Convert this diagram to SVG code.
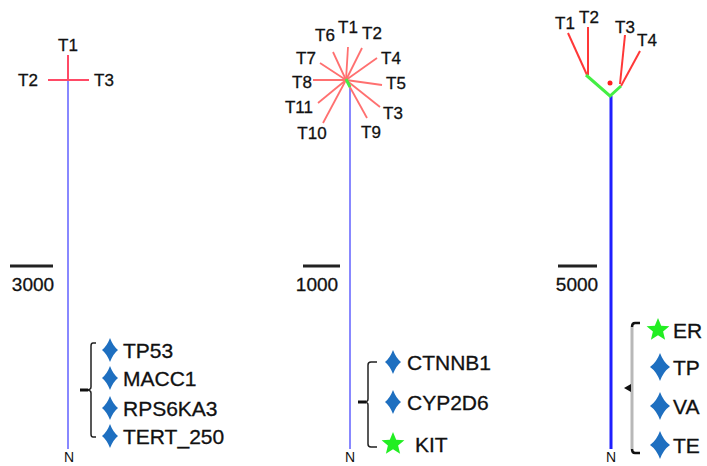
<svg xmlns="http://www.w3.org/2000/svg" width="707" height="466" viewBox="0 0 707 466">
<defs>
<style>
.t{font-family:"Liberation Sans",Arial,sans-serif;font-size:17px;fill:#111;text-anchor:middle;stroke:#111;stroke-width:0.3}
.g{font-family:"Liberation Sans",Arial,sans-serif;font-size:21px;fill:#111;stroke:#111;stroke-width:0.3}
.s{font-family:"Liberation Sans",Arial,sans-serif;font-size:19px;fill:#111;text-anchor:middle;stroke:#111;stroke-width:0.3}
.n{font-family:"Liberation Sans",Arial,sans-serif;font-size:14px;fill:#111;text-anchor:middle}
.bar{stroke:#222;stroke-width:3}
.br{fill:none;stroke:#222;stroke-width:1.5}
.tick{stroke:#111;stroke-width:3}
.r1{stroke:#ff4a66;stroke-width:2;fill:none}
.r2{stroke:#ff7070;stroke-width:1.8;fill:none}
.r3{stroke:#ff3838;stroke-width:2;fill:none}
.gr{stroke:#44ee44;stroke-width:3;fill:none}
.bl{stroke:#8888ff;stroke-width:2}
.bl3{stroke:#1f1fff;stroke-width:3}
.dia{fill:#1e6fc0}
.star{fill:#22ee22}
</style>
<path id="d" d="M0,-12 Q3,-4 8,0 Q3,4 0,12 Q-3,4 -8,0 Q-3,-4 0,-12 Z"/>
<path id="d3" d="M0,-14 Q3.5,-4.5 10,0 Q3.5,4.5 0,14 Q-3.5,4.5 -10,0 Q-3.5,-4.5 0,-14 Z"/>
<polygon id="st" points="0,-12 3.2,-4.2 11.4,-3.7 5.1,1.6 7.1,9.7 0,5.2 -7.1,9.7 -5.1,1.6 -11.4,-3.7 -3.2,-4.2"/>
</defs>

<g id="connectors">
  <!-- tree 1 -->
  <line class="bl" x1="68" y1="80" x2="68" y2="449"/>
  <line class="r1" x1="68" y1="55" x2="68" y2="80"/>
  <line class="r1" x1="48" y1="80" x2="89" y2="80"/>
  <!-- tree 2 -->
  <line class="bl" x1="350" y1="86" x2="350" y2="449"/>
  <g class="r2">
    <line x1="346" y1="80" x2="348" y2="47"/>
    <line x1="346" y1="80" x2="333" y2="52"/>
    <line x1="346" y1="80" x2="362" y2="48"/>
    <line x1="346" y1="80" x2="320" y2="63"/>
    <line x1="346" y1="80" x2="377" y2="58"/>
    <line x1="346" y1="80" x2="313" y2="80"/>
    <line x1="346" y1="80" x2="382" y2="85"/>
    <line x1="346" y1="80" x2="318" y2="103"/>
    <line x1="346" y1="80" x2="380" y2="107"/>
    <line x1="346" y1="80" x2="323" y2="123"/>
    <line x1="346" y1="80" x2="367" y2="118"/>
  </g>
  <line class="gr" x1="346" y1="79" x2="350" y2="87"/>
  <!-- tree 3 -->
  <line class="bl3" x1="611" y1="96" x2="611" y2="449"/>
  <g class="r3">
    <line x1="568" y1="33" x2="587" y2="75"/>
    <line x1="588" y1="27" x2="588" y2="75"/>
    <line x1="625" y1="35" x2="620" y2="84"/>
    <line x1="640" y1="51" x2="621" y2="86"/>
  </g>
  <polyline class="gr" points="586,75 610,96 621,86"/>
  <circle cx="610" cy="83" r="2.5" fill="#ff2020"/>
  <!-- scale bars -->
  <line class="bar" x1="10" y1="266" x2="53" y2="266"/>
  <line class="bar" x1="303" y1="266" x2="340" y2="266"/>
  <line class="bar" x1="558" y1="266" x2="597" y2="266"/>
  <!-- brackets -->
  <path class="br" d="M96,343 L93,343 Q91,343 91,346 L91,387 Q91,390 86,390 Q91,390 91,393 L91,434 Q91,437 93,437 L96,437"/>
  <line class="tick" x1="80" y1="390" x2="88" y2="390"/>
  <path class="br" d="M377,362 L371,362 Q368,362 368,365 L368,399 Q368,402 364,402 Q368,402 368,405 L368,444 Q368,447 371,447 L377,447"/>
  <line class="tick" x1="358" y1="402" x2="366" y2="402"/>
  <path d="M632,327 L632,449" stroke="#b8b8b8" stroke-width="3" fill="none"/>
  <path d="M640,323 L635,323 Q632,323 632,327" stroke="#111" stroke-width="2.5" fill="none"/>
  <path d="M640,453 L635,453 Q632,453 632,449" stroke="#111" stroke-width="2.5" fill="none"/>
  <path d="M624,388 L631,384 L631,392 Z" fill="#111"/>
</g>

<g id="tree1-labels">
  <text class="t" x="68" y="51">T1</text>
  <text class="t" x="28" y="86">T2</text>
  <text class="t" x="104" y="86">T3</text>
</g>
<g id="tree2-labels">
  <text class="t" x="348" y="33">T1</text>
  <text class="t" x="325" y="41">T6</text>
  <text class="t" x="372" y="39">T2</text>
  <text class="t" x="306" y="64">T7</text>
  <text class="t" x="391" y="64">T4</text>
  <text class="t" x="302" y="88">T8</text>
  <text class="t" x="396" y="89">T5</text>
  <text class="t" x="299" y="113">T11</text>
  <text class="t" x="393" y="119">T3</text>
  <text class="t" x="312" y="139">T10</text>
  <text class="t" x="371" y="138">T9</text>
</g>
<g id="tree3-labels">
  <text class="t" x="565" y="29">T1</text>
  <text class="t" x="589" y="23">T2</text>
  <text class="t" x="625" y="33">T3</text>
  <text class="t" x="647" y="46">T4</text>
</g>

<g id="scale-labels">
  <text class="s" x="33" y="291">3000</text>
  <text class="s" x="317" y="291">1000</text>
  <text class="s" x="577" y="291">5000</text>
</g>

<g id="N-labels">
  <text class="n" x="69" y="462">N</text>
  <text class="n" x="350" y="462">N</text>
  <text class="n" x="611" y="462">N</text>
</g>

<g id="genes1">
  <use href="#d" x="110" y="350" class="dia"/>
  <use href="#d" x="110" y="378" class="dia"/>
  <use href="#d" x="110" y="408" class="dia"/>
  <use href="#d" x="110" y="436" class="dia"/>
  <text class="g" x="123" y="358">TP53</text>
  <text class="g" x="123" y="386">MACC1</text>
  <text class="g" x="123" y="416">RPS6KA3</text>
  <text class="g" x="123" y="444">TERT_250</text>
</g>
<g id="genes2">
  <use href="#d" x="393" y="362" class="dia"/>
  <use href="#d" x="393" y="402" class="dia"/>
  <use href="#st" x="393" y="444" class="star"/>
  <text class="g" x="407" y="370">CTNNB1</text>
  <text class="g" x="407" y="410">CYP2D6</text>
  <text class="g" x="415" y="452">KIT</text>
</g>
<g id="genes3">
  <use href="#st" x="658" y="330" class="star"/>
  <use href="#d3" x="660" y="367" class="dia"/>
  <use href="#d3" x="660" y="406" class="dia"/>
  <use href="#d3" x="660" y="445" class="dia"/>
  <text class="g" x="673" y="338">ER</text>
  <text class="g" x="673" y="375">TP</text>
  <text class="g" x="673" y="414">VA</text>
  <text class="g" x="673" y="453">TE</text>
</g>
</svg>
